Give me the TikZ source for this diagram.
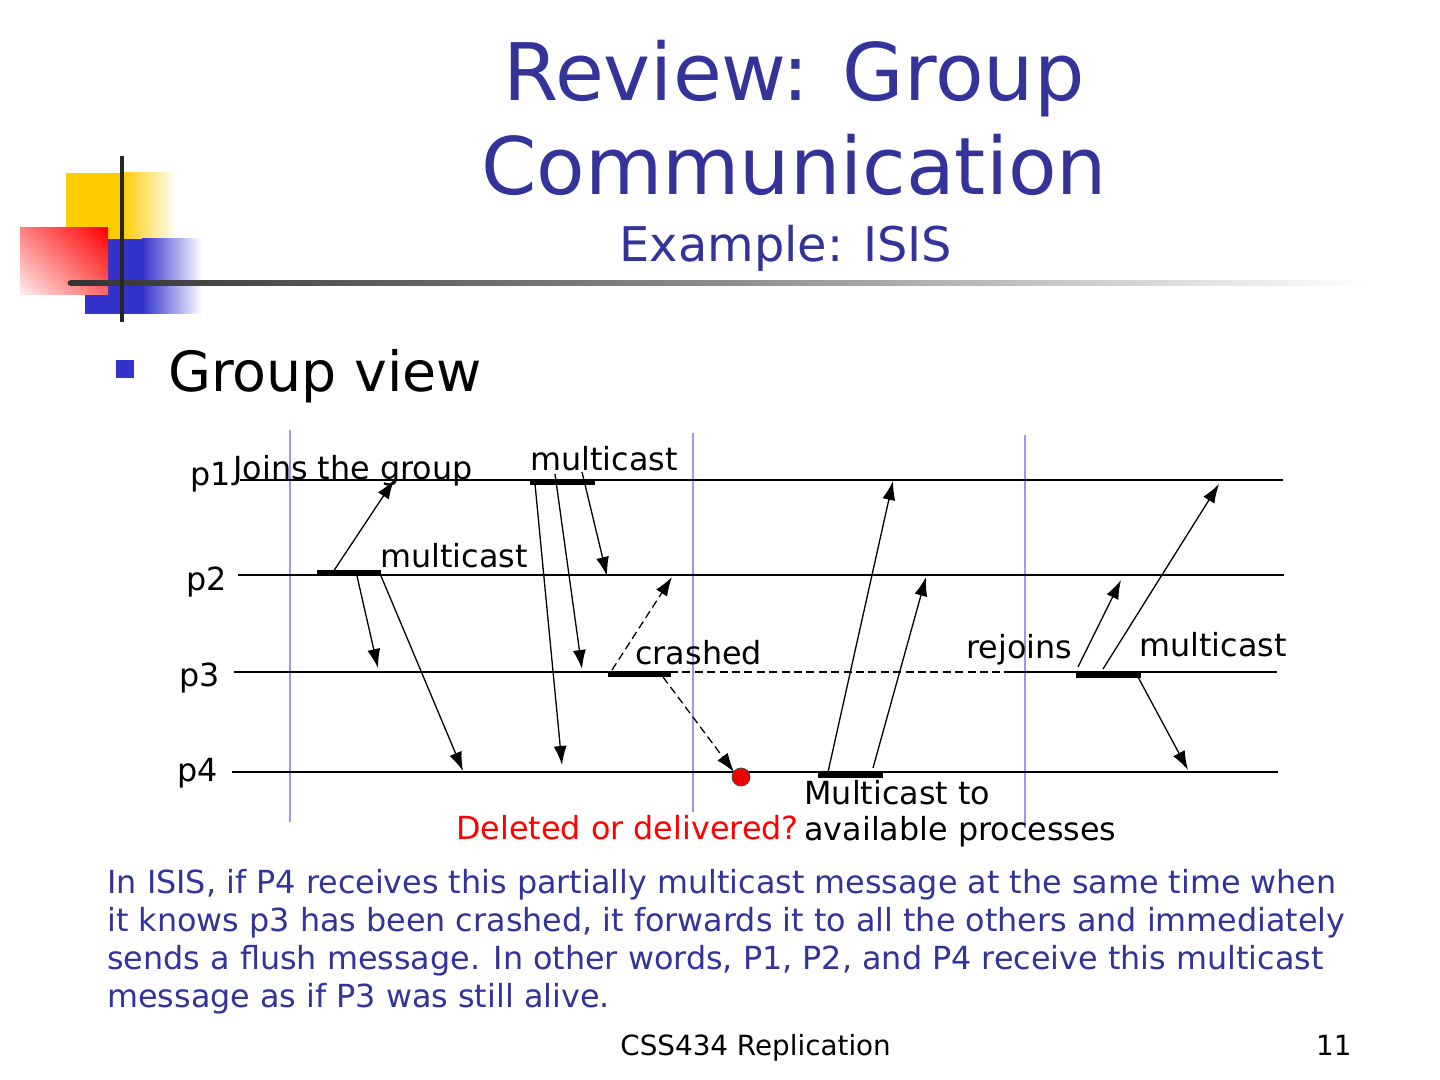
\documentclass[tikz,border=0pt]{standalone}
\usepackage{fontspec}
\setmainfont{DejaVu Sans}
\usetikzlibrary{arrows.meta,shadings}
\definecolor{titleblue}{HTML}{333399}
\definecolor{vblue}{HTML}{9999F5}
\definecolor{bulletblue}{HTML}{3333CC}
\definecolor{logoyellow}{HTML}{FFCC00}
\definecolor{logoblue}{HTML}{3333CC}
\definecolor{dotred}{HTML}{EE0000}
\begin{document}
\begin{tikzpicture}[x=0.5pt,y=-0.5pt,
  lbl/.style={anchor=base west, inner sep=0pt, font=\fontsize{15.9}{19}\selectfont},
  proc/.style={line width=1pt, black},
  thinproc/.style={line width=0.65pt, black},
  bar/.style={line width=2.6pt, black},
  view/.style={line width=0.8pt, vblue},
  msg/.style={line width=0.65pt, -{Latex[length=9.5pt,width=6.5pt]}},
  dmsg/.style={msg, dash pattern=on 4pt off 2.2pt},
  para/.style={anchor=base west, inner sep=0pt, text=titleblue, font=\fontsize{15.9}{19}\selectfont}]
\useasboundingbox (0,0) rectangle (1440,1080);
\fill[white] (0,0) rectangle (1440,1080);

% ---- logo ----
\fill[logoyellow] (66,173) rectangle (122,240);
\shade[left color=logoyellow, right color=white] (121,173) rectangle (177,240);
\fill[logoblue] (85,239) rectangle (143,314);
\shade[left color=logoblue, right color=white] (142,239) rectangle (202,314);
\shade[upper left=red!50, upper right=red, lower left=red!6, lower right=red!60] (20,228) rectangle (108,295);
\shade[left color=black!80, right color=white, middle color=black!45] (70,280.5) rectangle (1370,285.5);
\fill[black!80] (70,283) circle (2.5);
\draw[line width=2pt, black!85] (122,156) -- (122,322);

% ---- title ----
\node[anchor=base, inner sep=0pt, text=titleblue, font=\fontsize{39.7}{47}\selectfont] (t1) at (794,101) {Review: Group};
\node[anchor=base, inner sep=0pt, text=titleblue, font=\fontsize{39.7}{47}\selectfont] (t2) at (794,195) {Communication};
\node[anchor=base, inner sep=0pt, text=titleblue, font=\fontsize{23.9}{28}\selectfont] (t3) at (786,262) {Example: ISIS};

% ---- bullet ----
\fill[bulletblue] (116,360) rectangle (134,378);
\node[anchor=base west, inner sep=0pt, font=\fontsize{27.7}{33}\selectfont] (gv) at (168,392) {Group view};

% ---- view boundaries ----
\coordinate (v1a) at (290,430); \coordinate (v1b) at (290,822);
\coordinate (v2a) at (693,433); \coordinate (v2b) at (693,812);
\coordinate (v3a) at (1025,435); \coordinate (v3b) at (1025,828);
\draw[view] (v1a) -- (v1b);
\draw[view] (v2a) -- (v2b);
\draw[view] (v3a) -- (v3b);

% ---- process lines ----
\node[lbl] (p1) at (190,486) {p1};
\node[lbl] (p2) at (186,590) {p2};
\node[lbl] (p3) at (179,686) {p3};
\node[lbl] (p4) at (177,781) {p4};
\coordinate (p1s) at (240,480); \coordinate (p1e) at (1283,480);
\coordinate (p2s) at (238,575); \coordinate (p2e) at (1284,575);
\coordinate (p3s) at (234,672); \coordinate (p3c) at (610,672);
\coordinate (p3d) at (670,672); \coordinate (p3r) at (1004,672); \coordinate (p3e) at (1277,672);
\coordinate (p4s) at (232,772); \coordinate (p4e) at (1278,772);
\draw[proc] (p1s) -- (p1e);
\draw[proc] (p2s) -- (p2e);
\draw[proc] (p3s) -- (p3c);
\draw[thinproc, dash pattern=on 4pt off 2.2pt] (p3d) -- (p3r);
\draw[thinproc] (p3r) -- (p3e);
\draw[thinproc] (p4s) -- (p4e);

% ---- bars ----
\coordinate (b2a) at (317,573); \coordinate (b2b) at (381,573);
\coordinate (b1a) at (530,482); \coordinate (b1b) at (595,482);
\coordinate (b3a) at (608,674); \coordinate (b3b) at (671,674);
\coordinate (b4a) at (818,775); \coordinate (b4b) at (883,775);
\coordinate (b5a) at (1076,675); \coordinate (b5b) at (1141,675);
\draw[bar] (b2a) -- (b2b);
\draw[bar] (b1a) -- (b1b);
\draw[bar] (b3a) -- (b3b);
\draw[bar] (b4a) -- (b4b);
\draw[bar] (b5a) -- (b5b);

% ---- messages ----
\coordinate (m1s) at (333,572); \coordinate (m1e) at (394,480);
\coordinate (m2s) at (357,576); \coordinate (m2e) at (378,668);
\coordinate (m3s) at (381,576); \coordinate (m3e) at (463,771);
\coordinate (m4s) at (535,484); \coordinate (m4e) at (562,765);
\coordinate (m5s) at (555,474); \coordinate (m5e) at (582,669);
\coordinate (m6s) at (582,472); \coordinate (m6e) at (607,576);
\coordinate (m7s) at (612,670); \coordinate (m7e) at (672,577);
\coordinate (m8s) at (663,677); \coordinate (m8e) at (734,772);
\coordinate (m9s) at (828,772); \coordinate (m9e) at (893,481);
\coordinate (m10s) at (873,768); \coordinate (m10e) at (926,577);
\coordinate (m11s) at (1078,667); \coordinate (m11e) at (1121,580);
\coordinate (m12s) at (1103,669); \coordinate (m12e) at (1219,484);
\coordinate (m13s) at (1138,677); \coordinate (m13e) at (1188,770);
\draw[msg] (m1s) -- (m1e);
\draw[msg] (m2s) -- (m2e);
\draw[msg] (m3s) -- (m3e);
\draw[msg] (m4s) -- (m4e);
\draw[msg] (m5s) -- (m5e);
\draw[msg] (m6s) -- (m6e);
\draw[dmsg] (m7s) -- (m7e);
\draw[dmsg] (m8s) -- (m8e);
\draw[msg] (m9s) -- (m9e);
\draw[msg] (m10s) -- (m10e);
\draw[msg] (m11s) -- (m11e);
\draw[msg] (m12s) -- (m12e);
\draw[msg] (m13s) -- (m13e);
\node[circle, fill=dotred, draw=black!70, line width=0.4pt, minimum size=9pt, inner sep=0pt] (dot) at (741,777) {};

% ---- labels ----
\node[lbl] (join) at (233,480) {Joins the group};
\node[lbl] (mc1) at (530,471) {multicast};
\node[lbl] (mc2) at (380,567) {multicast};
\node[lbl] (cr) at (635,664) {crashed};
\node[lbl] (rj) at (966,658) {rejoins};
\node[lbl] (mc3) at (1139,656) {multicast};
\node[lbl] (mta) at (804,804) {Multicast to};
\node[lbl] (mtb) at (804,840) {available processes};
\node[lbl, text=red] (del) at (456,839) {Deleted or delivered?};

% ---- paragraph ----
\node[para] (l1) at (107,893) {In ISIS, if P4 receives this partially multicast message at the same time when};
\node[para] (l2) at (107,931) {it knows p3 has been crashed, it forwards it to all the others and immediately};
\node[para] (l3) at (107,969) {sends a flush message. In other words, P1, P2, and P4 receive this multicast};
\node[para] (l4) at (107,1007) {message as if P3 was still alive.};

% ---- footer ----
\node[anchor=base west, inner sep=0pt, font=\fontsize{13.9}{17}\selectfont] (ft) at (620,1055) {CSS434 Replication};
\node[anchor=base east, inner sep=0pt, font=\fontsize{13.9}{17}\selectfont] (pg) at (1352,1055) {11};
\end{tikzpicture}
\end{document}
